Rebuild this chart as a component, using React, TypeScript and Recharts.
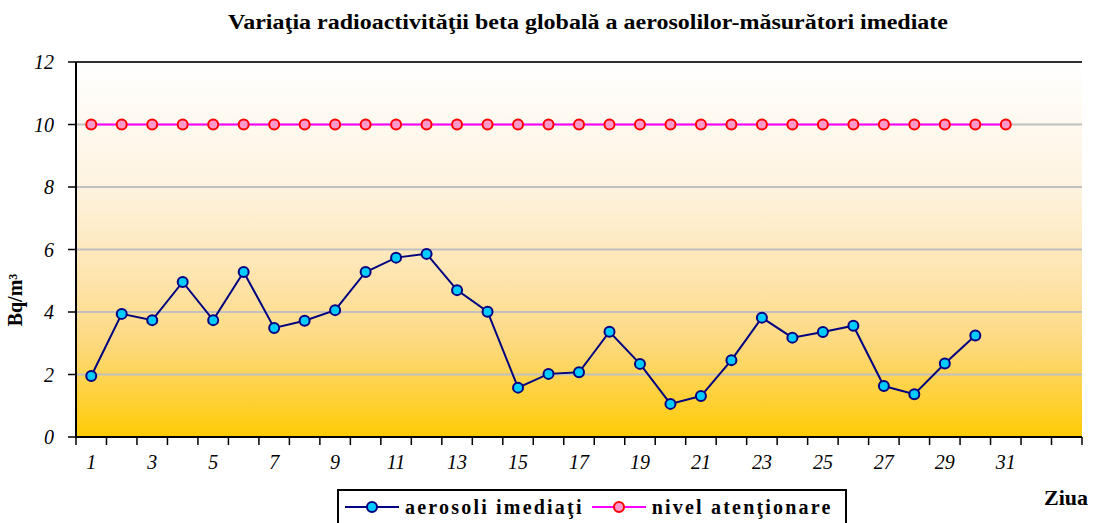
import React from 'react';
import {
  LineChart,
  Line,
  XAxis,
  YAxis,
  CartesianGrid,
  Legend,
  ReferenceLine,
} from 'recharts';

// zilele lunii (32, 33 raman goale pe axa)
const days = [
  '1', '2', '3', '4', '5', '6', '7', '8', '9', '10', '11', '12', '13', '14', '15', '16',
  '17', '18', '19', '20', '21', '22', '23', '24', '25', '26', '27', '28', '29', '30', '31',
  '32', '33',
];

const aerosoliImediati = [
  1.95, 3.94, 3.74, 4.96, 3.74, 5.28, 3.49, 3.72, 4.06, 5.28, 5.74, 5.86, 4.7, 4.01, 1.58, 2.02,
  2.07, 3.37, 2.34, 1.06, 1.31, 2.46, 3.82, 3.18, 3.36, 3.56, 1.63, 1.37, 2.35, 3.25, null,
  null, null,
];

const nivelAtentionare = [
  10, 10, 10, 10, 10, 10, 10, 10, 10, 10, 10, 10, 10, 10, 10, 10,
  10, 10, 10, 10, 10, 10, 10, 10, 10, 10, 10, 10, 10, 10, 10,
  null, null,
];

const yTicks = [0, 2, 4, 6, 8, 10, 12];

const data = days.map((d, i) => ({
  day: d,
  aerosoli: aerosoliImediati[i],
  nivel: nivelAtentionare[i],
}));

const SERIF = "'Liberation Serif', 'DejaVu Serif', serif";
const BAND = 1006 / days.length;

const markers: Record<string, { fill: string; stroke: string; line: string }> = {
  'aerosoli imediaţi': { fill: '#00CCFF', stroke: '#000080', line: '#000080' },
  'nivel atenţionare': { fill: '#FF99CC', stroke: '#FF0000', line: '#FF00FF' },
};

function DayTick(props: any) {
  const { x, y, payload, index } = props;
  const num = Number(payload.value);
  const last = index === days.length - 1;
  return (
    <g>
      <line x1={x - BAND / 2} x2={x - BAND / 2} y1={y - 8} y2={y} stroke="#000" strokeWidth={1.5} />
      {last && <line x1={x + BAND / 2} x2={x + BAND / 2} y1={y - 8} y2={y} stroke="#000" strokeWidth={1.5} />}
      {num % 2 === 1 && num <= 31 && (
        <text x={x} y={y + 24} textAnchor="middle" fontFamily={SERIF} fontStyle="italic" fontSize={20} fill="#000">
          {payload.value}
        </text>
      )}
    </g>
  );
}

function LegendBox(props: any) {
  const { payload } = props;
  return (
    <div
      style={{
        border: '2px solid #000',
        background: '#fff',
        display: 'flex',
        alignItems: 'center',
        height: 36,
        boxSizing: 'border-box',
        padding: '0 6px',
        gap: 8,
      }}
    >
      {payload.map((item: any) => {
        const m = markers[item.value];
        return (
          <div key={item.value} style={{ display: 'flex', alignItems: 'center' }}>
            <svg width={54} height={14}>
              <line x1={0} x2={54} y1={7} y2={7} stroke={m.line} strokeWidth={2} />
              <circle cx={27} cy={7} r={5} fill={m.fill} stroke={m.stroke} strokeWidth={2} />
            </svg>
            <span
              style={{
                fontFamily: SERIF,
                fontWeight: 'bold',
                fontSize: 20,
                letterSpacing: 2.2,
                marginLeft: 6,
                color: '#000',
                whiteSpace: 'nowrap',
              }}
            >
              {item.value}
            </span>
          </div>
        );
      })}
    </div>
  );
}

export default function App() {
  return (
    <div style={{ position: 'absolute', left: 0, top: 0, background: '#fff' }}>
      <LineChart
        width={1094}
        height={523}
        data={data}
        margin={{ top: 62, right: 12, left: 0, bottom: 20 }}
      >
        <defs>
          <linearGradient id="plotBg" x1="0" y1="0" x2="0" y2="1">
            <stop offset="0%" stopColor="#FFFFFF" />
            <stop offset="33%" stopColor="#FEF3E0" />
            <stop offset="55%" stopColor="#FEE6B4" />
            <stop offset="75%" stopColor="#FDD97F" />
            <stop offset="100%" stopColor="#FFCB05" />
          </linearGradient>
        </defs>
        <CartesianGrid
          yAxisId="left"
          vertical={false}
          stroke="#C0C0C0"
          strokeWidth={2}
          fill="url(#plotBg)"
          fillOpacity={1}
        />
        <XAxis
          dataKey="day"
          interval={0}
          height={30}
          tickSize={8}
          tickMargin={0}
          tickLine={false}
          padding={{ left: BAND / 2, right: BAND / 2 }}
          axisLine={{ stroke: '#000', strokeWidth: 2 }}
          tick={<DayTick />}
        />
        <YAxis
          yAxisId="left"
          domain={[0, 12]}
          ticks={yTicks}
          width={76}
          tickSize={8}
          tickMargin={14}
          axisLine={{ stroke: '#000', strokeWidth: 2 }}
          tickLine={{ stroke: '#000', strokeWidth: 1.5 }}
          tick={{ fontFamily: SERIF, fontStyle: 'italic', fontSize: 20, fill: '#000' }}
        />
        <YAxis
          yAxisId="right"
          orientation="right"
          domain={[0, 12]}
          width={0}
          tick={false}
          tickLine={false}
          axisLine={{ stroke: '#222', strokeWidth: 1.5 }}
        />
        <ReferenceLine yAxisId="left" y={12} stroke="#000" strokeWidth={1.5} />
        <Line
          yAxisId="left"
          dataKey="aerosoli"
          name="aerosoli imediaţi"
          stroke="#000080"
          strokeWidth={2}
          dot={{ r: 5, fill: '#00CCFF', stroke: '#000080', strokeWidth: 2 }}
          activeDot={false}
          isAnimationActive={false}
        />
        <Line
          yAxisId="left"
          dataKey="nivel"
          name="nivel atenţionare"
          stroke="#FF00FF"
          strokeWidth={2}
          dot={{ r: 5, fill: '#FF99CC', stroke: '#FF0000', strokeWidth: 2 }}
          activeDot={false}
          isAnimationActive={false}
        />
        <Legend
          verticalAlign="bottom"
          content={<LegendBox />}
          wrapperStyle={{ left: 337, top: 489, width: 510, bottom: 'auto' }}
        />
        <text
          transform="translate(588 29) scale(1.2 1)"
          x={0}
          y={0}
          textAnchor="middle"
          fontFamily={SERIF}
          fontWeight="bold"
          fontSize={20}
          fill="#000"
        >
          Variaţia radioactivităţii beta globală a aerosolilor-măsurători imediate
        </text>
        <text
          x={22}
          y={300}
          transform="rotate(-90 22 300)"
          textAnchor="middle"
          fontFamily={SERIF}
          fontWeight="bold"
          fontSize={20}
          fill="#000"
        >
          Bq/m³
        </text>
        <text x={1066} y={505} textAnchor="middle" fontFamily={SERIF} fontWeight="bold" fontSize={22} fill="#000">
          Ziua
        </text>
      </LineChart>
    </div>
  );
}
